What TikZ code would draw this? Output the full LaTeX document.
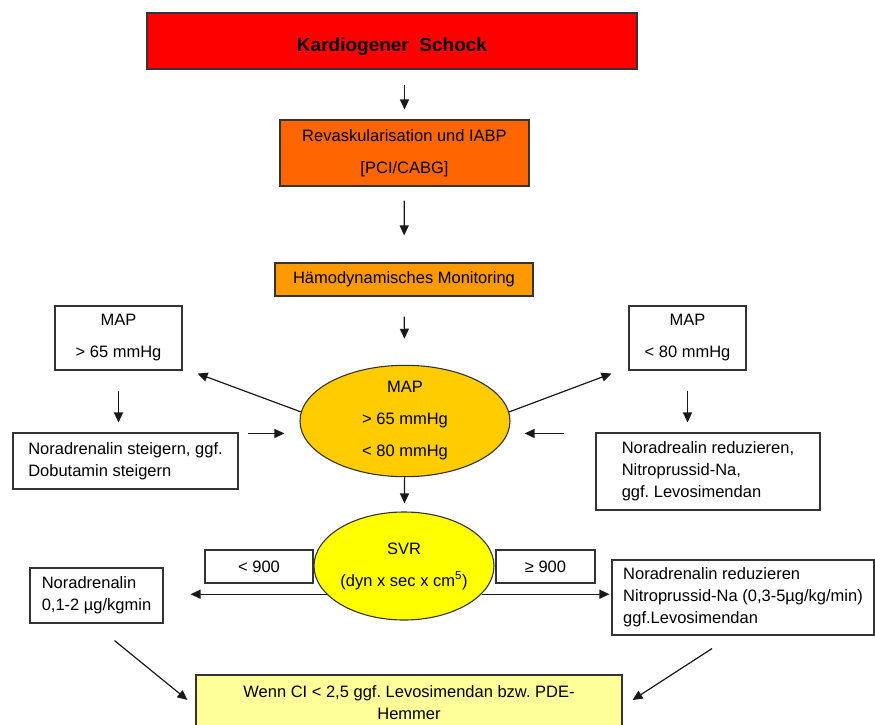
\documentclass[tikz,border=0pt]{standalone}
\usepackage{fontspec}
\setmainfont{Liberation Sans}
\usetikzlibrary{arrows.meta,shapes.geometric,calc}
\definecolor{shockRed}{HTML}{FF0000}
\definecolor{revOrange}{HTML}{FF6600}
\definecolor{monOrange}{HTML}{FF9900}
\definecolor{mapGold}{HTML}{FFCC00}
\definecolor{svrYellow}{HTML}{FFFF00}
\definecolor{ciYellow}{HTML}{FFFF99}
\definecolor{lineGrey}{HTML}{333333}
\newcommand{\diagfont}{\fontsize{16.5}{22}\selectfont\frenchspacing}
\tikzset{
  arr/.style={-{Triangle[length=10pt,width=9pt]}, line width=1.2pt, black!90},
  box/.style={draw=lineGrey, fill=#1, line width=1.1pt, inner sep=0pt,
    align=center, font=\diagfont, text=black},
  box/.default=white,
  note/.style={box, align=left},
  oval/.style={ellipse, draw=lineGrey, fill=#1, line width=1.1pt,
    inner sep=0pt, align=center, font=\diagfont, text=black}
}

\begin{document}
\begin{tikzpicture}[x=1pt,y=-1pt]
  \useasboundingbox (0,0) rectangle (875,725);
  % main column
  \node[box=shockRed, minimum width=490pt, minimum height=56pt,
    font=\fontsize{19}{22}\selectfont\bfseries] (shock) at (392,41) {\raisebox{-11pt}[0pt][0pt]{Kardiogener\ \ Schock}};
  \node[box=revOrange, minimum width=249pt, minimum height=66pt] (revask) at (404.5,153) {Revaskularisation und IABP\\[10pt][PCI/CABG]};
  \node[box=monOrange, minimum width=258pt, minimum height=33pt] (monitor) at (404,279.5) {Hämodynamisches Monitoring};
  \node[oval=mapGold, minimum width=210pt, minimum height=110pt] (mapel) at (405,421) {MAP\\[10pt]> 65 mmHg\\[10pt]< 80 mmHg};
  \node[box, minimum width=108pt, minimum height=33pt] (lt) at (259,566.5) {< 900};
  \node[box, minimum width=99pt, minimum height=33pt] (ge) at (545.5,566.5) {≥ 900};
  \node[oval=svrYellow, minimum width=180pt, minimum height=108pt, inner xsep=-8pt] (svr) at (404,566) {SVR\\[10pt](dyn x sec x cm\textsuperscript{5})};
  \node[box=ciYellow, minimum width=426pt, minimum height=56pt] (ci) at (409,703) {Wenn CI < 2,5 ggf. Levosimendan bzw. PDE-\\Hemmer};
  % side boxes
  \node[box, minimum width=127pt, minimum height=64pt] (maphi) at (118.5,338) {MAP\\[10pt]> 65 mmHg};
  \node[box, minimum width=117pt, minimum height=64pt] (maplo) at (687.5,338) {MAP\\[10pt]< 80 mmHg};
  \node[note, minimum width=225pt, minimum height=56pt] (steig) at (125.5,461) {Noradrenalin steigern, ggf.\\Dobutamin steigern};
  \node[note, minimum width=224pt, minimum height=77pt] (reduz) at (708,471.5) {Noradrealin reduzieren,\\Nitroprussid-Na,\\ggf. Levosimendan};
  \node[note, minimum width=133pt, minimum height=55pt] (nora) at (96.5,595.5) {Noradrenalin\\0,1-2 µg/kgmin};
  \node[note, minimum width=262pt, minimum height=75pt] (nitro) at (743,597.5) {Noradrenalin reduzieren\\Nitroprussid-Na (0,3-5µg/kg/min)\\ggf.Levosimendan};

  \draw[arr, shorten <=15pt, shorten >=10pt] (shock.south -| revask.north) -- (revask.north);
  \draw[arr, shorten <=14pt, shorten >=27pt] (revask) -- (monitor);
  \draw[arr, shorten <=20pt, shorten >=26pt] (monitor) -- (mapel);
  \draw[arr, shorten >=8pt] (mapel) -- (svr);
  \draw[arr] (mapel.175) -- ([shift={(15,3)}]maphi.south east);
  \draw[arr] (mapel.5) -- ([shift={(-17,3)}]maplo.south west);
  \draw[arr, shorten <=20pt, shorten >=10pt] (maphi.south) -- (maphi.south |- steig.north);
  \draw[arr, shorten <=20pt, shorten >=10pt] (maplo.south) -- (maplo.south |- reduz.north);
  \draw[arr, shorten <=9pt, shorten >=15pt] ([yshift=-1pt]steig.north east) -- ([yshift=-1pt]mapel.west |- steig.north east);
  \draw[arr, shorten <=31pt, shorten >=14pt] ([yshift=-1pt]reduz.north west) -- ([yshift=-1pt]mapel.east |- reduz.north west);
  \draw[arr, shorten >=27pt] (svr.200) -- (svr.200 -| nora.east);
  \draw[arr, shorten >=2pt] (svr.-20) -- (svr.-20 -| nitro.west);
  \draw[arr] ([shift={(18,17)}]nora.south) -- ([shift={(-8,-3)}]ci.west);
  \draw[arr] ([shift={(-31,13)}]nitro.south) -- ([shift={(10,-3)}]ci.east);
\end{tikzpicture}
\end{document}
